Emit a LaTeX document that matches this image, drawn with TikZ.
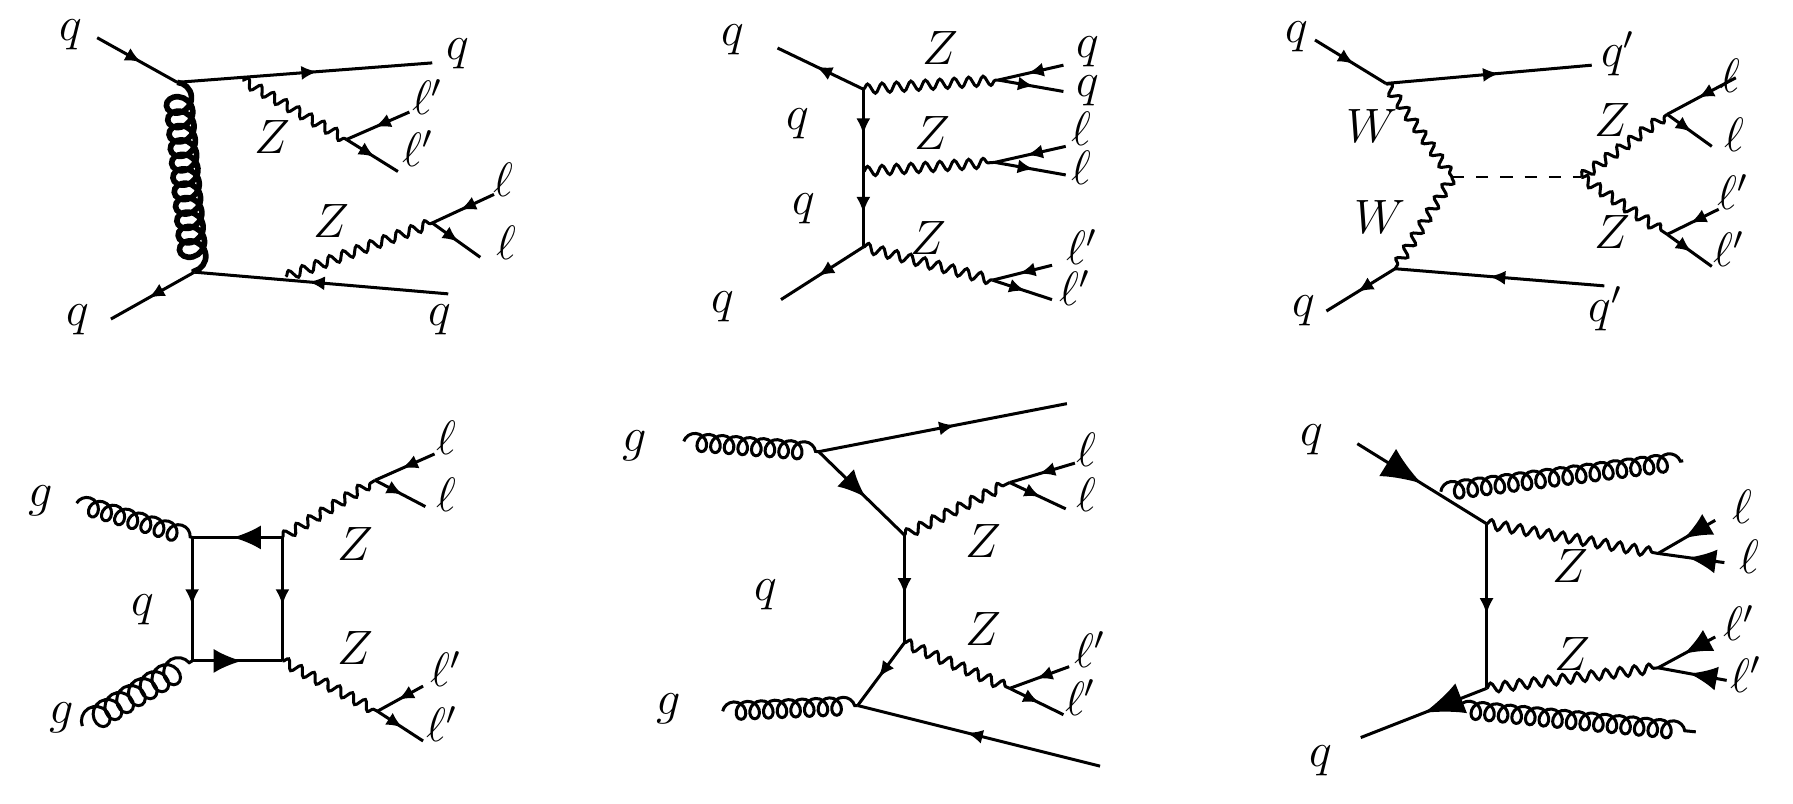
\documentclass[tikz,border=0pt]{standalone}
\usepackage{amsmath}
\usepackage{amssymb}
\usetikzlibrary{decorations.pathmorphing,decorations.markings,arrows.meta}
\begin{document}
\begin{tikzpicture}[x=0.01cm,y=-0.01cm,line width=0.75pt,
  fermion/.style={postaction={decorate},decoration={markings,mark=at position .55 with {\arrow{Latex[length=4pt,width=3.5pt]}}}},
  midfermion/.style={postaction={decorate},decoration={markings,mark=at position .55 with {\arrow{Latex[length=7pt,width=6pt]}}}},
  bigfermion/.style={postaction={decorate},decoration={markings,mark=at position .5 with {\arrow{Latex[length=10pt,width=8pt]}}}},
  boson/.style={decorate,decoration={snake,amplitude=1.2pt,segment length=3.6pt}},
  gluon/.style={decorate,decoration={coil,aspect=0.9,amplitude=2.2pt,segment length=3.4pt}},
  lbl/.style={font=\large}]
\useasboundingbox (0,0) rectangle (1568,703);
% top left
\coordinate (A1) at (155,72); \coordinate (A2) at (170,238);
\coordinate (A3) at (212,70); \coordinate (A4) at (303,122);
\coordinate (A5) at (250,242); \coordinate (A6) at (378,195);
\node[lbl] (Aq1) at (62,30) {$q$};
\node[lbl] (Aq2) at (400,47) {$q$};
\node[lbl] (Aq3) at (68,280) {$q$};
\node[lbl] (Aq4) at (385,280) {$q$};
\node[lbl] (Az1) at (238,120) {$Z$};
\node[lbl] (Az2) at (290,193) {$Z$};
\node[lbl] (Al1) at (374,85) {$\ell'$};
\node[lbl] (Al2) at (366,130) {$\ell'$};
\node[lbl] (Al3) at (440,157) {$\ell$};
\node[lbl] (Al4) at (443,212) {$\ell$};
\coordinate (Ae1) at (85,33); \coordinate (Ae2) at (378,55);
\coordinate (Ae3) at (97,279); \coordinate (Ae4) at (392,257);
\coordinate (Ae5) at (358,98); \coordinate (Ae6) at (348,150);
\coordinate (Ae7) at (432,170); \coordinate (Ae8) at (420,225);
\draw[fermion] (Ae1) -- (A1);
\draw[fermion] (A1) -- (Ae2);
\draw[fermion] (A2) -- (Ae3);
\draw[fermion] (Ae4) -- (A2);
\draw[gluon,line width=1.4pt,decoration={amplitude=3.2pt,segment length=3.6pt}] (A1) -- (A2);
\draw[boson] (A3) -- (A4);
\draw[boson] (A5) -- (A6);
\draw[fermion] (Ae5) -- (A4);
\draw[fermion] (A4) -- (Ae6);
\draw[fermion] (Ae7) -- (A6);
\draw[fermion] (A6) -- (Ae8);
% top middle
\coordinate (B1) at (755,78); \coordinate (B2) at (755,150); \coordinate (B3) at (755,216);
\coordinate (B4) at (873,70); \coordinate (B5) at (870,142); \coordinate (B6) at (868,245);
\coordinate (Be1) at (680,42); \coordinate (Be2) at (683,262);
\coordinate (Be3) at (930,57); \coordinate (Be4) at (930,80);
\coordinate (Be5) at (932,128); \coordinate (Be6) at (932,153);
\coordinate (Be7) at (920,232); \coordinate (Be8) at (920,262);
\node[lbl] (Bq1) at (641,35) {$q$};
\node[lbl] (Bq2) at (698,108) {$q$};
\node[lbl] (Bq3) at (703,183) {$q$};
\node[lbl] (Bq4) at (632,268) {$q$};
\node[lbl] (Bz1) at (822,42) {$Z$};
\node[lbl] (Bz2) at (815,116) {$Z$};
\node[lbl] (Bz3) at (812,208) {$Z$};
\node[lbl] (Bq5) at (951,45) {$q$};
\node[lbl] (Bq6) at (951,79) {$q$};
\node[lbl] (Bl1) at (946,113) {$\ell$};
\node[lbl] (Bl2) at (946,147) {$\ell$};
\node[lbl] (Bl3) at (946,216) {$\ell'$};
\node[lbl] (Bl4) at (940,252) {$\ell'$};
\draw[fermion] (B1) -- (Be1);
\draw[fermion] (B1) -- (B2);
\draw[fermion] (B2) -- (B3);
\draw[fermion] (B3) -- (Be2);
\draw[boson] (B1) -- (B4);
\draw[boson] (B2) -- (B5);
\draw[boson] (B3) -- (B6);
\draw[fermion] (Be3) -- (B4);
\draw[fermion] (B4) -- (Be4);
\draw[fermion] (Be5) -- (B5);
\draw[fermion] (B5) -- (Be6);
\draw[fermion] (Be7) -- (B6);
\draw[fermion] (B6) -- (Be8);
% top right
\coordinate (C1) at (1212,73); \coordinate (C2) at (1270,155); \coordinate (C3) at (1220,235);
\coordinate (C4) at (1383,155); \coordinate (C5) at (1458,100); \coordinate (C6) at (1458,205);
\coordinate (Ce1) at (1150,35); \coordinate (Ce2) at (1392,57);
\coordinate (Ce3) at (1160,272); \coordinate (Ce4) at (1403,250);
\coordinate (Ce5) at (1518,68); \coordinate (Ce6) at (1497,128);
\coordinate (Ce7) at (1503,183); \coordinate (Ce8) at (1497,233);
\node[lbl] (Cq1) at (1134,32) {$q$};
\node[lbl] (Cq2) at (1415,47) {$q'$};
\node[lbl] (Cq3) at (1140,272) {$q$};
\node[lbl] (Cq4) at (1404,270) {$q'$};
\node[lbl] (Cw1) at (1200,110) {$W$};
\node[lbl] (Cw2) at (1207,190) {$W$};
\node[lbl] (Cz1) at (1410,105) {$Z$};
\node[lbl] (Cz2) at (1410,203) {$Z$};
\node[lbl] (Cl1) at (1513,66) {$\ell$};
\node[lbl] (Cl2) at (1517,118) {$\ell$};
\node[lbl] (Cl3) at (1516,168) {$\ell'$};
\node[lbl] (Cl4) at (1512,218) {$\ell'$};
\draw[fermion] (Ce1) -- (C1);
\draw[fermion] (C1) -- (Ce2);
\draw[fermion] (C3) -- (Ce3);
\draw[fermion] (Ce4) -- (C3);
\draw[boson] (C1) -- (C2);
\draw[boson] (C2) -- (C3);
\draw[dashed,line width=0.5pt] (C2) -- (C4);
\draw[boson] (C4) -- (C5);
\draw[boson] (C4) -- (C6);
\draw[fermion] (Ce5) -- (C5);
\draw[fermion] (C5) -- (Ce6);
\draw[fermion] (Ce7) -- (C6);
\draw[fermion] (C6) -- (Ce8);
% bottom left
\coordinate (D1) at (168,470); \coordinate (D2) at (247,470);
\coordinate (D3) at (247,578); \coordinate (D4) at (168,578);
\coordinate (D5) at (328,420); \coordinate (D6) at (330,622);
\coordinate (De1) at (67,440); \coordinate (De2) at (72,635);
\coordinate (De3) at (380,397); \coordinate (De4) at (372,443);
\coordinate (De5) at (370,600); \coordinate (De6) at (370,648);
\node[lbl] (Dg1) at (36,438) {$g$};
\node[lbl] (Dg2) at (54,628) {$g$};
\node[lbl] (Dq1) at (125,533) {$q$};
\node[lbl] (Dz1) at (311,476) {$Z$};
\node[lbl] (Dz2) at (311,567) {$Z$};
\node[lbl] (Dl1) at (390,383) {$\ell$};
\node[lbl] (Dl2) at (390,433) {$\ell$};
\node[lbl] (Dl3) at (390,585) {$\ell'$};
\node[lbl] (Dl4) at (387,633) {$\ell'$};
\draw[gluon] (De1) -- (D1);
\draw[gluon,decoration={amplitude=3pt}] (De2) -- (D4);
\draw[midfermion] (D2) -- (D1);
\draw[fermion] (D1) -- (D4);
\draw[midfermion] (D4) -- (D3);
\draw[fermion] (D2) -- (D3);
\draw[boson] (D2) -- (D5);
\draw[boson] (D3) -- (D6);
\draw[fermion] (De3) -- (D5);
\draw[fermion] (D5) -- (De4);
\draw[fermion] (De5) -- (D6);
\draw[fermion] (D6) -- (De6);
% bottom middle
\coordinate (E1) at (716,395); \coordinate (E2) at (791,468);
\coordinate (E3) at (791,562); \coordinate (E4) at (750,617);
\coordinate (E5) at (883,422); \coordinate (E6) at (883,602);
\coordinate (Ee1) at (598,386); \coordinate (Ee2) at (933,353);
\coordinate (Ee3) at (632,622); \coordinate (Ee4) at (962,670);
\coordinate (Ee5) at (940,405); \coordinate (Ee6) at (932,445);
\coordinate (Ee7) at (935,583); \coordinate (Ee8) at (930,625);
\node[lbl] (Eg1) at (555,390) {$g$};
\node[lbl] (Eg2) at (585,620) {$g$};
\node[lbl] (Eq1) at (670,520) {$q$};
\node[lbl] (Ez1) at (860,473) {$Z$};
\node[lbl] (Ez2) at (860,550) {$Z$};
\node[lbl] (El1) at (950,393) {$\ell$};
\node[lbl] (El2) at (950,433) {$\ell$};
\node[lbl] (El3) at (953,568) {$\ell'$};
\node[lbl] (El4) at (945,610) {$\ell'$};
\draw[gluon] (Ee1) -- (E1);
\draw[gluon] (Ee3) -- (E4);
\draw[fermion] (E1) -- (Ee2);
\draw[midfermion] (E1) -- (E2);
\draw[fermion] (E2) -- (E3);
\draw[fermion] (E3) -- (E4);
\draw[fermion] (Ee4) -- (E4);
\draw[boson] (E2) -- (E5);
\draw[boson] (E3) -- (E6);
\draw[fermion] (Ee5) -- (E5);
\draw[fermion] (E5) -- (Ee6);
\draw[fermion] (Ee7) -- (E6);
\draw[fermion] (E6) -- (Ee8);
% bottom right
\coordinate (F1) at (1300,458); \coordinate (F2) at (1300,602);
\coordinate (F3) at (1450,484); \coordinate (F4) at (1450,584);
\coordinate (Fe1) at (1187,388); \coordinate (Fe2) at (1190,645);
\coordinate (Fe3) at (1260,430); \coordinate (Fe4) at (1472,403);
\coordinate (Fe5) at (1275,620); \coordinate (Fe6) at (1483,640);
\coordinate (Fe7) at (1500,455); \coordinate (Fe8) at (1508,492);
\coordinate (Fe9) at (1500,557); \coordinate (Fe10) at (1510,595);
\node[lbl] (Fq1) at (1147,385) {$q$};
\node[lbl] (Fq2) at (1155,665) {$q$};
\node[lbl] (Fz1) at (1373,495) {$Z$};
\node[lbl] (Fz2) at (1375,572) {$Z$};
\node[lbl] (Fl1) at (1524,443) {$\ell$};
\node[lbl] (Fl2) at (1530,487) {$\ell$};
\node[lbl] (Fl3) at (1521,545) {$\ell'$};
\node[lbl] (Fl4) at (1527,590) {$\ell'$};
\draw[bigfermion] (Fe1) -- (F1);
\draw[fermion] (F1) -- (F2);
\draw[bigfermion] (F2) -- (Fe2);
\draw[gluon] (Fe3) -- (Fe4);
\draw[gluon] (Fe5) -- (Fe6);
\draw[boson] (F1) -- (F3);
\draw[boson] (F2) -- (F4);
\draw[midfermion] (Fe7) -- (F3);
\draw[midfermion] (Fe8) -- (F3);
\draw[midfermion] (Fe9) -- (F4);
\draw[midfermion] (Fe10) -- (F4);
\end{tikzpicture}
\end{document}
